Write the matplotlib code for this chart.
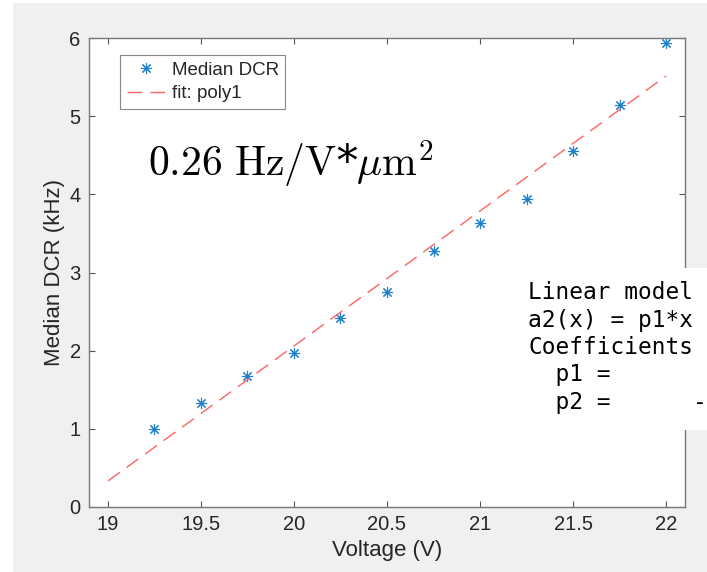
# -*- coding: utf-8 -*-
"""
Median DCR versus voltage with a linear fit.
"""

import numpy as np
import matplotlib.pyplot as plt
from matplotlib.patches import Rectangle

W, H = 707, 572

voltage = [19.25, 19.5, 19.75, 20.0, 20.25, 20.5, 20.75, 21.0, 21.25, 21.5, 21.75, 22.0]
median_dcr = [1.00, 1.33, 1.68, 1.97, 2.42, 2.75, 3.27, 3.63, 3.94, 4.55, 5.14, 5.93]
fit_range = [19.0, 22.0]
fit_p1 = 1.727
fit_p2 = -32.48
xticks = [19, 19.5, 20, 20.5, 21, 21.5, 22]
xticklabels = ["19", "19.5", "20", "20.5", "21", "21.5", "22"]
yticks = [0, 1, 2, 3, 4, 5, 6]
# only the part of the fit summary that is visible in the window
model_lines = [
    "Linear model",
    "a2(x) = p1*x",
    "Coefficients",
    "  p1 =",
    "  p2 =      -",
]


def px(x, y):
    # pixel coords (from top-left) to figure fraction
    return x / W, 1 - y / H


def main():
    plt.rcParams["font.family"] = ["Liberation Sans", "DejaVu Sans"]
    plt.rcParams["mathtext.fontset"] = "cm"

    fig = plt.figure(figsize=(W / 100, H / 100), dpi=100, facecolor="white")
    fig.patches.append(
        Rectangle((13 / W, 0), 1 - 13 / W, 1 - 3 / H, transform=fig.transFigure,
                  facecolor="#f0f0f0", edgecolor="none", zorder=-10)
    )
    ax = fig.add_axes([89 / W, 1 - 507 / H, 596 / W, 469 / H])
    ax.set_facecolor("white")

    ax.plot(voltage, median_dcr, linestyle="none", marker=(8, 2, 0),
            markersize=8, markeredgewidth=0.8, color="#1f7fc8", label="Median DCR")
    xx = np.array(fit_range)
    ax.plot(xx, fit_p1 * xx + fit_p2, color="#ff6262", linewidth=1.0,
            dashes=(10.5, 6), label="fit: poly1")

    ax.set_xlim(18.898, 22.102)
    ax.set_ylim(0, 6)
    ax.set_xticks(xticks)
    ax.set_xticklabels(xticklabels)
    ax.set_yticks(yticks)
    ax.tick_params(direction="in", length=4.5, width=0.8, color="#555555",
                   labelsize=14.5, labelcolor="#262626", top=True, right=True,
                   pad=6)
    for sp in ax.spines.values():
        sp.set_color("#777777")
        sp.set_linewidth(1.0)
    ax.set_xlabel("Voltage (V)", fontsize=16, color="#262626", labelpad=4)
    ax.set_ylabel("Median DCR (kHz)", fontsize=16, color="#262626", labelpad=3)

    leg = ax.legend(loc="upper left", bbox_to_anchor=px(120, 55),
                    bbox_transform=fig.transFigure, fontsize=13.5,
                    fancybox=False, framealpha=1, edgecolor="#888888",
                    borderaxespad=0, borderpad=0.35, handlelength=2.1,
                    handletextpad=0.3, labelspacing=0.35)
    leg.get_frame().set_linewidth(0.8)
    for t in leg.get_texts():
        t.set_color("#262626")

    fig.text(*px(148, 177), r"$\mathrm{0.26\ Hz/V}$*$\mu\mathrm{m}^2$",
             fontsize=30, family="DejaVu Serif", va="baseline", ha="left")

    fig.patches.append(
        Rectangle(px(513, 430), 1, (430 - 268) / H, transform=fig.transFigure,
                  facecolor="white", edgecolor="none", zorder=5)
    )
    fig.text(*px(528, 281), "\n".join(model_lines), family="DejaVu Sans Mono",
             fontsize=16.4, va="top", ha="left", linespacing=1.25, zorder=6,
             color="black")

    fig.savefig("out.png", dpi=100, facecolor=fig.get_facecolor())


if __name__ == "__main__":
    main()
